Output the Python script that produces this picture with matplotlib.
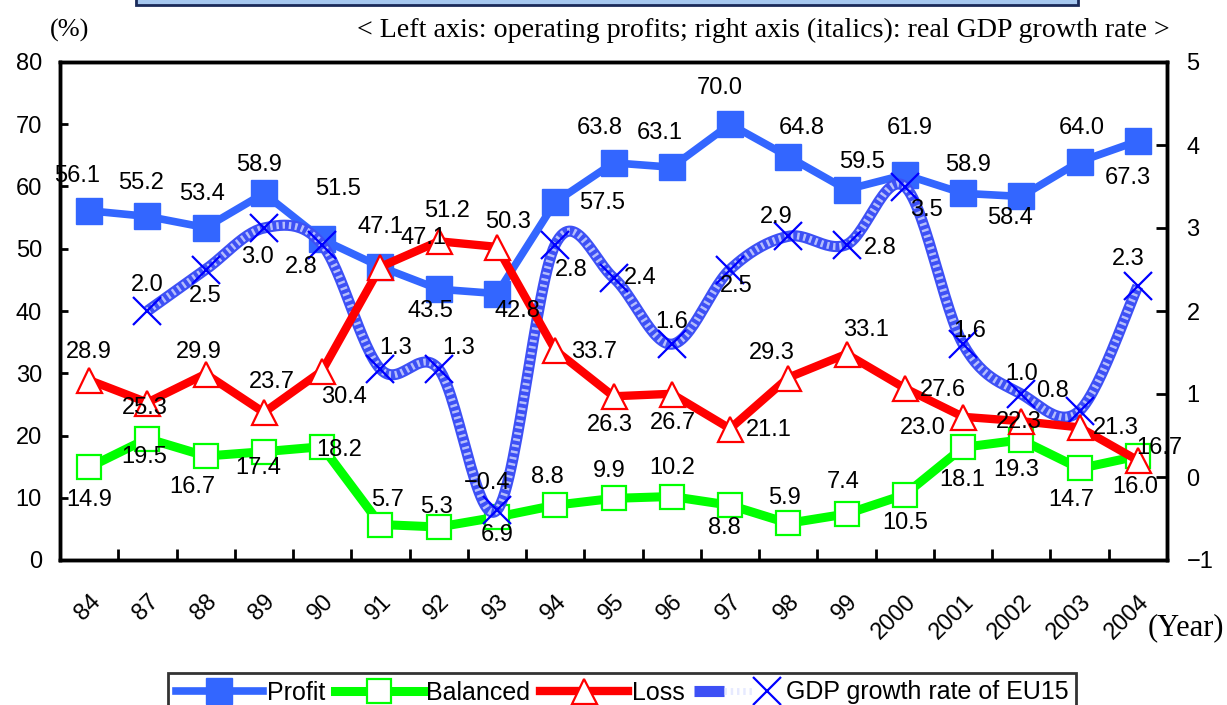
import numpy as np
import matplotlib
matplotlib.use('Agg')
import matplotlib.pyplot as plt
from matplotlib.patches import Rectangle
from matplotlib.lines import Line2D
from matplotlib.legend_handler import HandlerTuple
from matplotlib import font_manager

# ---------------- data ----------------
years = ['84', '87', '88', '89', '90', '91', '92', '93', '94', '95', '96', '97',
         '98', '99', '2000', '2001', '2002', '2003', '2004']
profit = [56.1, 55.2, 53.4, 58.9, 51.5, 47.1, 43.5, 42.8, 57.5, 63.8, 63.1, 70.0,
          64.8, 59.5, 61.9, 58.9, 58.4, 64.0, 67.3]
balanced = [14.9, 19.5, 16.7, 17.4, 18.2, 5.7, 5.3, 6.9, 8.8, 9.9, 10.2, 8.8,
            5.9, 7.4, 10.5, 18.1, 19.3, 14.7, 16.7]
loss = [28.9, 25.3, 29.9, 23.7, 30.4, 47.1, 51.2, 50.3, 33.7, 26.3, 26.7, 21.1,
        29.3, 33.1, 27.6, 23.0, 22.3, 21.3, 16.0]
gdp_years = ['87', '88', '89', '90', '91', '92', '93', '94', '95', '96', '97',
             '98', '99', '2000', '2001', '2002', '2003', '2004']
gdp = [2.0, 2.5, 3.0, 2.8, 1.3, 1.3, -0.4, 2.8, 2.4, 1.6, 2.5, 2.9, 2.8, 3.5,
       1.6, 1.0, 0.8, 2.3]

# label offsets in pixels (dx right, dy down)
profit_off = [(-12, -35), (-6, -33), (-4, -34), (-5, -28), (16, -50), (0, -40),
              (-8, 22), (20, 17), (47, 1), (-14, -35), (-12, -34), (-10, -36),
              (13, -29), (15, -28), (5, -47), (5, -28), (-11, 22), (2, -34), (-10, 37)]
balanced_off = [(0, 33), (-3, 18), (-13, 31), (-6, 16), (17, 3), (7, -25), (-2, -20),
                (0, 18), (-8, -28), (-4, -27), (0, -29), (-6, 23), (-4, -25), (-3, -32),
                (0, 28), (-1, 33), (-5, 30), (-8, 32), (21, -8)]
loss_off = [(0, -28), (-3, 5), (-7, -22), (8, -30), (22, 26), (43, -29), (8, -30),
            (11, -25), (39, 2), (-4, 29), (1, 29), (39, 1), (-16, -25), (19, -24),
            (38, 2), (-40, 11), (-3, 1), (36, 1), (-3, 27)]
gdp_off = [(0, -26), (0, 27), (-6, 29), (-21, 22), (15, -21), (20, -21), (-10, -27),
           (16, 25), (27, 0), (0, -22), (6, 17), (-12, -19), (34, 3), (22, 23),
           (7, -13), (0, -20), (-27, -20), (-10, -27)]

# ---------------- style ----------------
available = {f.name for f in font_manager.fontManager.ttflist}
SANS = [f for f in ['Liberation Sans Narrow', 'Liberation Sans', 'DejaVu Sans'] if f in available]
SERIF = ['Liberation Serif', 'DejaVu Serif']
plt.rcParams['font.family'] = SANS

C_PROFIT = '#3366FF'
C_BAL = '#00FF00'
C_LOSS = '#FF0000'
C_GDP = '#0000FF'

FS_LAB = 17
FS_TICK = 17

W, H = 1227, 705
fig = plt.figure(figsize=(W / 100, H / 100), dpi=100)
L, R, T, B = 60, 1167, 62, 560
ax = fig.add_axes([L / W, 1 - B / H, (R - L) / W, (B - T) / H])
ax2 = ax.twinx()
ax3 = ax.twinx()

x = np.arange(len(years))
xg = np.array([years.index(y) for y in gdp_years])

ax.set_xlim(-0.5, len(years) - 0.5)
ax.set_ylim(0, 80)
ax2.set_ylim(-1, 5)
ax3.set_ylim(0, 80)

# profit and balanced on base axes
lp, = ax.plot(x, profit, color=C_PROFIT, lw=5.5, marker='s', ms=19,
              mfc=C_PROFIT, mec=C_PROFIT, solid_joinstyle='round', zorder=2)
lb, = ax.plot(x, balanced, color=C_BAL, lw=6.5, marker='s', ms=17,
              mfc='white', mec=C_BAL, mew=1.6, zorder=3)


# smooth GDP curve (Catmull-Rom style Bezier, computed in pixel-like space)
def smooth(xs, ys, sx, sy, n=30):
    P = np.column_stack([np.asarray(xs, float) * sx, np.asarray(ys, float) * sy])
    out = []
    for i in range(len(P) - 1):
        p0 = P[i - 1] if i > 0 else P[i]
        p1, p2 = P[i], P[i + 1]
        p3 = P[i + 2] if i + 2 < len(P) else P[i + 1]
        c1 = p1 + (p2 - p0) / 6.0
        c2 = p2 - (p3 - p1) / 6.0
        t = np.linspace(0, 1, n)[:, None]
        seg = ((1 - t) ** 3) * p1 + 3 * ((1 - t) ** 2) * t * c1 + 3 * (1 - t) * t ** 2 * c2 + t ** 3 * p2
        out.append(seg if i == 0 else seg[1:])
    out = np.vstack(out)
    return out[:, 0] / sx, out[:, 1] / sy


sxp = (R - L) / len(years)
syp = (B - T) / 6.0
gx, gy = smooth(xg, gdp, sxp, syp)
G_BASE = dict(color='#3d50f5', lw=8, solid_capstyle='butt')
G_DOTS = dict(color='#dfe4ff', lw=5, ls=(0, (0.35, 0.55)), alpha=0.75)
G_MARK = dict(ls='none', marker='x', ms=20, mew=1.6, color=C_GDP)
ax2.plot(gx, gy, zorder=2, **G_BASE)
ax2.plot(gx, gy, zorder=3, **G_DOTS)
ax2.plot(xg, gdp, zorder=4, **G_MARK)

# loss on top
ll, = ax3.plot(x, loss, color=C_LOSS, lw=6, marker='^', ms=18,
               mfc='white', mec=C_LOSS, mew=1.6, zorder=3)

# data labels
lab_kw = dict(textcoords='offset pixels', ha='center', va='center', fontsize=FS_LAB,
              color='black', zorder=10, annotation_clip=False)
for xi, v, (dx, dy) in zip(x, profit, profit_off):
    ax3.annotate(f'{v:.1f}', (xi, v), xytext=(dx, -dy), xycoords=ax.transData, **lab_kw)
for xi, v, (dx, dy) in zip(x, balanced, balanced_off):
    ax3.annotate(f'{v:.1f}', (xi, v), xytext=(dx, -dy), xycoords=ax.transData, **lab_kw)
for xi, v, (dx, dy) in zip(x, loss, loss_off):
    ax3.annotate(f'{v:.1f}', (xi, v), xytext=(dx, -dy), xycoords=ax3.transData, **lab_kw)
for xi, v, (dx, dy) in zip(xg, gdp, gdp_off):
    s = f'{v:.1f}'.replace('-', '\u2212')
    ax3.annotate(s, (xi, v), xytext=(dx, -dy), xycoords=ax2.transData, **lab_kw)

# axes styling
for a in (ax, ax2, ax3):
    for sp in a.spines.values():
        sp.set_linewidth(2.5)
        sp.set_color('black')
for sp in ax3.spines.values():
    sp.set_visible(False)
ax3.set_yticks([])
ax3.tick_params(axis='both', which='both', length=0, labelleft=False, labelright=False,
                labelbottom=False)

ax.set_xticks(np.arange(len(years) - 1) + 0.5)
ax.set_xticklabels([])
ax.set_xticks(x, minor=True)
ax.set_xticklabels(years, minor=True, rotation=45, ha='right', va='top',
                   rotation_mode='anchor', fontsize=FS_TICK)
ax.tick_params(axis='x', which='major', direction='in', length=8, width=2)
ax.tick_params(axis='x', which='minor', length=0, pad=22)

ax.set_yticks(np.arange(0, 81, 10))
ax.tick_params(axis='y', direction='in', length=6, width=2, labelsize=FS_TICK, pad=13)
ax2.set_yticks(np.arange(-1, 6, 1))
ax2.tick_params(axis='y', direction='in', length=8, width=2, labelsize=FS_TICK, pad=14)

# header texts
fig.text(70 / W, 1 - 30 / H, '(%)', family=SERIF, fontsize=19, ha='center', va='center')
fig.text(1170 / W, 1 - 30 / H,
         '< Left axis: operating profits; right axis (italics): real GDP growth rate >',
         family=SERIF, fontsize=20.2, ha='right', va='center')
fig.text(1186 / W, 1 - 628 / H, '(Year)', family=SERIF, fontsize=22, ha='center', va='center')

# cut-off title box at top
fig.patches.append(Rectangle((136 / W, 1 - 5 / H), (1078 - 136) / W, 20 / H,
                             transform=fig.transFigure, facecolor='#A6C8F0',
                             edgecolor='#1a2a5a', lw=2, zorder=5))

# legend (cut off at bottom as in reference)
gdp_handle = (Line2D([], [], **G_BASE), Line2D([], [], **G_DOTS), Line2D([], [], **G_MARK))
leg = fig.legend([lp, lb, ll, gdp_handle],
                 ['Profit', 'Balanced', 'Loss', 'GDP growth rate of EU15'],
                 handler_map={tuple: HandlerTuple(ndivide=None, pad=0)},
                 loc='upper center', bbox_to_anchor=(622 / W, 1 - 673 / H), ncol=4,
                 frameon=True, fancybox=False, edgecolor='black', fontsize=18,
                 handlelength=3.5, handletextpad=0.15, columnspacing=0.4,
                 borderpad=0.3, borderaxespad=0)
leg.get_frame().set_linewidth(2)

fig.savefig('out.png', dpi=100)
